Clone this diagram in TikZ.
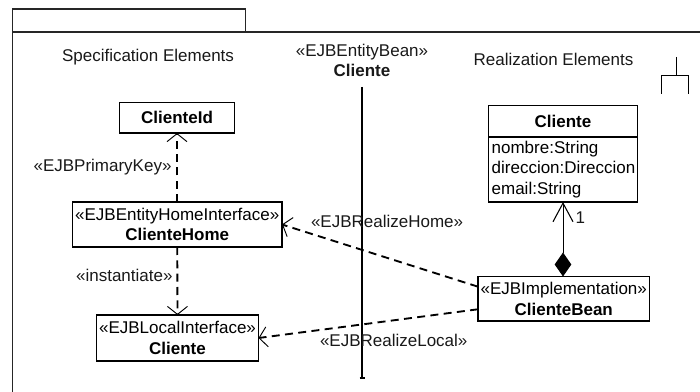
\documentclass[tikz,border=0pt]{standalone}
\usepackage{fontspec}
\setmainfont{Liberation Sans}
\usetikzlibrary{arrows.meta}
\tikzset{
  x=0.75pt, y=-0.75pt,
  txt/.style={inner sep=0pt, outer sep=0pt, align=center, font=\fontsize{12.75}{15.4}\selectfont, text=black!90},
  box/.style={draw=black, line width=1.1pt, inner sep=0pt, outer sep=0pt, align=center, fill=white, font=\fontsize{12.75}{15.4}\selectfont},
  frameline/.style={draw=black!85, line width=1.15pt},
  dep/.style={line width=1.4pt, dash pattern=on 6pt off 4pt, -{Straight Barb[length=6pt,width=15pt,line width=0.7pt]}},
  comp/.style={line width=0.75pt, {Diamond[length=18pt,width=12.5pt]}-{Straight Barb[length=14pt,width=15pt,line width=0.8pt]}}
}
\begin{document}
\begin{tikzpicture}
\useasboundingbox (0,0) rectangle (700,392);
% frame
\coordinate (fbl) at (12.5,392);
\coordinate (ftl) at (12.5,9);
\coordinate (ftr) at (245.5,9);
\coordinate (fbr) at (245.5,32);
\coordinate (fl) at (12.5,32);
\coordinate (fr) at (700,32);
\draw[frameline] (fbl) -- (ftl) -- (ftr) -- (fbr);
\draw[frameline] (fl) -- (fr);
% headings
\node[txt] (spec) at (148,57.5) {Specification Elements};
\node[txt] (real) at (553.5,59.5) {Realization Elements};
\node[txt] (bean0) at (362,60.5) {«EJBEntityBean»\\\textbf{Cliente}};
% lifeline
\coordinate (lla) at (362,87);
\coordinate (llb) at (362,378);
\coordinate (lltl) at (359.5,378);
\coordinate (lltr) at (364.5,378);
\draw[line width=2.1pt] (lla) -- (llb);
\draw[line width=1pt] (lltl) -- (lltr);
% fork
\coordinate (fk0) at (676,57);
\coordinate (fk1) at (676,75.5);
\coordinate (fk2) at (661.5,94);
\coordinate (fk3) at (661.5,75.5);
\coordinate (fk4) at (688.5,75.5);
\coordinate (fk5) at (688.5,94);
\draw[line width=0.7pt] (fk0) -- (fk1);
\draw[line width=0.7pt] (fk2) -- (fk3) -- (fk4) -- (fk5);
% spec boxes
\node[box, minimum width=86.25pt, minimum height=22.9pt] (cid) at (177,117.8) {\textbf{ClienteId}};
\node[box, minimum width=157.1pt, minimum height=33.75pt] (home) at (177.25,224.5) {«EJBEntityHomeInterface»\\\textbf{ClienteHome}};
\node[box, minimum width=121.5pt, minimum height=34.5pt] (local) at (177.5,338) {«EJBLocalInterface»\\\textbf{Cliente}};
% class box
\node[box, minimum width=111.75pt, minimum height=23.6pt] (clsh) at (563,121.25) {\textbf{Cliente}};
\node[box, minimum width=111.75pt, minimum height=48.75pt, text width=107pt, align=left, anchor=north] (clsa) at (clsh.south) {nombre:String\\direccion:Direccion\\email:String};
% implementation
\node[box, minimum width=128.6pt, minimum height=33.4pt] (bean) at (563.75,298.75) {«EJBImplementation»\\\textbf{ClienteBean}};
% connectors
\draw[dep] (home.north -| cid.south) -- (cid.south);
\draw[dep] (home.south) -- (local.north);
\draw[dep] (bean.172.9) -- (home.east);
\draw[dep] (bean.187.5) -- (local.east);
\draw[comp] (bean.north -| clsa.south) -- (clsa.south);
% labels
\node[txt, anchor=east] (lpk) at (171.5,167) {«EJBPrimaryKey»};
\node[txt, anchor=east] (lin) at (172.5,275) {«instantiate»};
\node[txt, anchor=west] (lrh) at (311,221) {«EJBRealizeHome»};
\node[txt, anchor=west] (lrl) at (320,340) {«EJBRealizeLocal»};
\node[txt, anchor=west] (lone) at (575.5,217.5) {1};
\end{tikzpicture}
\end{document}
